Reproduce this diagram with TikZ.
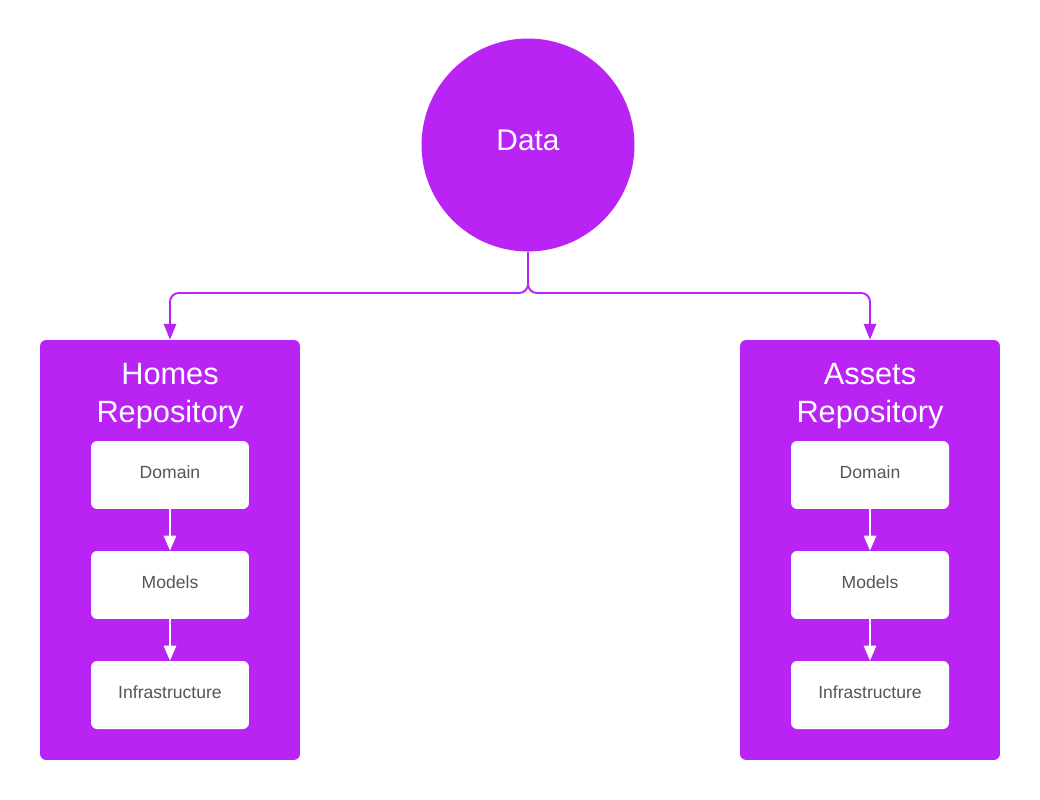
\documentclass[tikz,border=0pt]{standalone}
\usepackage{fontspec}
\setmainfont{Liberation Sans}
\usepackage{tikz}
\usetikzlibrary{arrows.meta}

\definecolor{violet}{RGB}{185,36,245}
\definecolor{textgray}{RGB}{85,85,85}

\tikzset{
	repo/.style={fill=violet, rounded corners=3.5pt, minimum width=5.2cm, minimum height=8.4cm, inner sep=0pt},
	layer/.style={fill=white, rounded corners=3.5pt, minimum width=3.16cm, minimum height=1.36cm, text=textgray, text depth=3pt, font=\fontsize{10}{12}\selectfont},
	link/.style={draw=violet, line width=1.1pt, rounded corners=5pt, -{Triangle[length=9pt,width=7pt]}},
	flow/.style={draw=white, line width=1.1pt, -{Triangle[length=8.5pt,width=7pt]}}
}

\begin{document}
\begin{tikzpicture}[x=0.02cm, y=-0.02cm]
	\useasboundingbox (0,0) rectangle (1040,800);
	\node[circle, fill=violet, minimum size=4.26cm, inner sep=0pt, text=white, text depth=5pt, font=\fontsize{17}{20}\selectfont] (data) at (528,145) {Data};
	\coordinate (split) at (528,293);
	\foreach \name/\x/\title in {homes/170/Homes, assets/870/Assets}
	{
		\node[repo] (\name) at (\x,550) {};
		\node[text=white, align=center, font=\fontsize{17.5}{21.5}\selectfont] (\name title) at (\x,396) {\title\\Repository};
		\node[layer] (\name domain) at (\x,475) {Domain};
		\node[layer] (\name models) at (\x,585) {Models};
		\node[layer] (\name infra) at (\x,695) {Infrastructure};
		\draw[flow] (\name domain) -- (\name models);
		\draw[flow] (\name models) -- (\name infra);
		\draw[link] (data.south) -- (split) -| (\name.north);
	}
\end{tikzpicture}
\end{document}
